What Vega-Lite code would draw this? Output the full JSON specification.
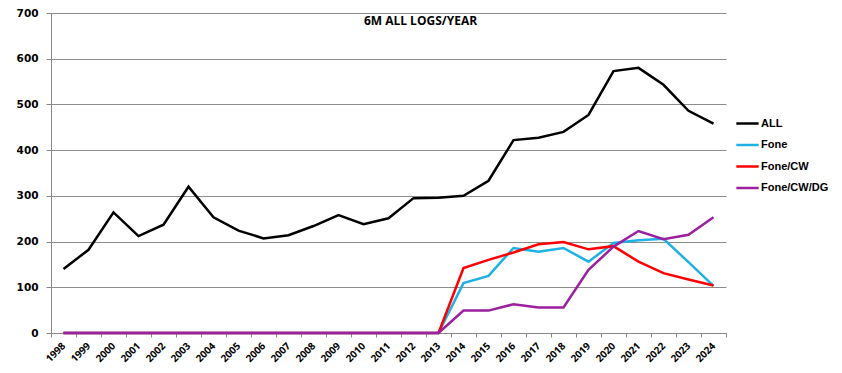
{
  "$schema": "https://vega.github.io/schema/vega-lite/v6.json",
  "width": 675,
  "height": 320,
  "autosize": {"type": "none"},
  "padding": {"left": 51, "top": 13, "right": 116, "bottom": 40},
  "background": "white",
  "config": {"view": {"stroke": null}},
  "title": {
    "text": "6M ALL LOGS/YEAR",
    "font": "Open Sans",
    "fontSize": 12,
    "fontWeight": "bold",
    "color": "#000000",
    "anchor": "middle",
    "dx": 32,
    "offset": -20
  },
  "data": {
    "values": [
      {"year": "1998", "series": "ALL", "value": 140},
      {"year": "1999", "series": "ALL", "value": 182},
      {"year": "2000", "series": "ALL", "value": 264},
      {"year": "2001", "series": "ALL", "value": 212},
      {"year": "2002", "series": "ALL", "value": 237},
      {"year": "2003", "series": "ALL", "value": 320},
      {"year": "2004", "series": "ALL", "value": 253},
      {"year": "2005", "series": "ALL", "value": 224},
      {"year": "2006", "series": "ALL", "value": 207},
      {"year": "2007", "series": "ALL", "value": 214},
      {"year": "2008", "series": "ALL", "value": 234},
      {"year": "2009", "series": "ALL", "value": 258},
      {"year": "2010", "series": "ALL", "value": 238},
      {"year": "2011", "series": "ALL", "value": 251},
      {"year": "2012", "series": "ALL", "value": 295},
      {"year": "2013", "series": "ALL", "value": 296},
      {"year": "2014", "series": "ALL", "value": 300},
      {"year": "2015", "series": "ALL", "value": 333},
      {"year": "2016", "series": "ALL", "value": 422},
      {"year": "2017", "series": "ALL", "value": 427},
      {"year": "2018", "series": "ALL", "value": 440},
      {"year": "2019", "series": "ALL", "value": 477},
      {"year": "2020", "series": "ALL", "value": 573},
      {"year": "2021", "series": "ALL", "value": 580},
      {"year": "2022", "series": "ALL", "value": 543},
      {"year": "2023", "series": "ALL", "value": 486},
      {"year": "2024", "series": "ALL", "value": 458},
      {"year": "1998", "series": "Fone", "value": 0},
      {"year": "1999", "series": "Fone", "value": 0},
      {"year": "2000", "series": "Fone", "value": 0},
      {"year": "2001", "series": "Fone", "value": 0},
      {"year": "2002", "series": "Fone", "value": 0},
      {"year": "2003", "series": "Fone", "value": 0},
      {"year": "2004", "series": "Fone", "value": 0},
      {"year": "2005", "series": "Fone", "value": 0},
      {"year": "2006", "series": "Fone", "value": 0},
      {"year": "2007", "series": "Fone", "value": 0},
      {"year": "2008", "series": "Fone", "value": 0},
      {"year": "2009", "series": "Fone", "value": 0},
      {"year": "2010", "series": "Fone", "value": 0},
      {"year": "2011", "series": "Fone", "value": 0},
      {"year": "2012", "series": "Fone", "value": 0},
      {"year": "2013", "series": "Fone", "value": 0},
      {"year": "2014", "series": "Fone", "value": 109},
      {"year": "2015", "series": "Fone", "value": 125},
      {"year": "2016", "series": "Fone", "value": 186},
      {"year": "2017", "series": "Fone", "value": 178},
      {"year": "2018", "series": "Fone", "value": 186},
      {"year": "2019", "series": "Fone", "value": 156},
      {"year": "2020", "series": "Fone", "value": 197},
      {"year": "2021", "series": "Fone", "value": 203},
      {"year": "2022", "series": "Fone", "value": 206},
      {"year": "2023", "series": "Fone", "value": 155},
      {"year": "2024", "series": "Fone", "value": 103},
      {"year": "1998", "series": "Fone/CW", "value": 0},
      {"year": "1999", "series": "Fone/CW", "value": 0},
      {"year": "2000", "series": "Fone/CW", "value": 0},
      {"year": "2001", "series": "Fone/CW", "value": 0},
      {"year": "2002", "series": "Fone/CW", "value": 0},
      {"year": "2003", "series": "Fone/CW", "value": 0},
      {"year": "2004", "series": "Fone/CW", "value": 0},
      {"year": "2005", "series": "Fone/CW", "value": 0},
      {"year": "2006", "series": "Fone/CW", "value": 0},
      {"year": "2007", "series": "Fone/CW", "value": 0},
      {"year": "2008", "series": "Fone/CW", "value": 0},
      {"year": "2009", "series": "Fone/CW", "value": 0},
      {"year": "2010", "series": "Fone/CW", "value": 0},
      {"year": "2011", "series": "Fone/CW", "value": 0},
      {"year": "2012", "series": "Fone/CW", "value": 0},
      {"year": "2013", "series": "Fone/CW", "value": 0},
      {"year": "2014", "series": "Fone/CW", "value": 142},
      {"year": "2015", "series": "Fone/CW", "value": 160},
      {"year": "2016", "series": "Fone/CW", "value": 176},
      {"year": "2017", "series": "Fone/CW", "value": 194},
      {"year": "2018", "series": "Fone/CW", "value": 199},
      {"year": "2019", "series": "Fone/CW", "value": 183},
      {"year": "2020", "series": "Fone/CW", "value": 190},
      {"year": "2021", "series": "Fone/CW", "value": 156},
      {"year": "2022", "series": "Fone/CW", "value": 131},
      {"year": "2023", "series": "Fone/CW", "value": 117},
      {"year": "2024", "series": "Fone/CW", "value": 104},
      {"year": "1998", "series": "Fone/CW/DG", "value": 0},
      {"year": "1999", "series": "Fone/CW/DG", "value": 0},
      {"year": "2000", "series": "Fone/CW/DG", "value": 0},
      {"year": "2001", "series": "Fone/CW/DG", "value": 0},
      {"year": "2002", "series": "Fone/CW/DG", "value": 0},
      {"year": "2003", "series": "Fone/CW/DG", "value": 0},
      {"year": "2004", "series": "Fone/CW/DG", "value": 0},
      {"year": "2005", "series": "Fone/CW/DG", "value": 0},
      {"year": "2006", "series": "Fone/CW/DG", "value": 0},
      {"year": "2007", "series": "Fone/CW/DG", "value": 0},
      {"year": "2008", "series": "Fone/CW/DG", "value": 0},
      {"year": "2009", "series": "Fone/CW/DG", "value": 0},
      {"year": "2010", "series": "Fone/CW/DG", "value": 0},
      {"year": "2011", "series": "Fone/CW/DG", "value": 0},
      {"year": "2012", "series": "Fone/CW/DG", "value": 0},
      {"year": "2013", "series": "Fone/CW/DG", "value": 0},
      {"year": "2014", "series": "Fone/CW/DG", "value": 49},
      {"year": "2015", "series": "Fone/CW/DG", "value": 49},
      {"year": "2016", "series": "Fone/CW/DG", "value": 63},
      {"year": "2017", "series": "Fone/CW/DG", "value": 56},
      {"year": "2018", "series": "Fone/CW/DG", "value": 56},
      {"year": "2019", "series": "Fone/CW/DG", "value": 138},
      {"year": "2020", "series": "Fone/CW/DG", "value": 189},
      {"year": "2021", "series": "Fone/CW/DG", "value": 223},
      {"year": "2022", "series": "Fone/CW/DG", "value": 205},
      {"year": "2023", "series": "Fone/CW/DG", "value": 215},
      {"year": "2024", "series": "Fone/CW/DG", "value": 253}
    ]
  },
  "mark": {"type": "line", "strokeWidth": 2.5, "strokeJoin": "miter", "strokeCap": "butt"},
  "encoding": {
    "x": {
      "field": "year",
      "type": "ordinal",
      "scale": {"type": "band", "paddingInner": 0, "paddingOuter": 0},
      "axis": {
        "title": null,
        "labelAngle": -45,
        "labelAlign": "right",
        "labelBaseline": "middle",
        "labelFont": "Open Sans",
        "labelFontWeight": "bold",
        "labelFontSize": 10,
        "labelColor": "#000000",
        "labelPadding": 7,
        "tickBand": "extent",
        "tickSize": 4,
        "tickColor": "#888888",
        "domainColor": "#888888",
        "grid": false
      }
    },
    "y": {
      "field": "value",
      "type": "quantitative",
      "scale": {"domain": [0, 700], "nice": false},
      "axis": {
        "title": null,
        "values": [0, 100, 200, 300, 400, 500, 600, 700],
        "labelFont": "DejaVu Sans",
        "labelFontWeight": "bold",
        "labelFontSize": 10.5,
        "labelColor": "#000000",
        "labelPadding": 8,
        "tickSize": 5,
        "tickColor": "#888888",
        "domainColor": "#888888",
        "gridColor": "#8c8c8c",
        "gridOpacity": 1
      }
    },
    "color": {
      "field": "series",
      "type": "nominal",
      "scale": {
        "domain": ["ALL", "Fone", "Fone/CW", "Fone/CW/DG"],
        "range": ["#000000", "#1eb1e6", "#ff0000", "#9c1fa0"]
      },
      "legend": {
        "title": null,
        "orient": "none",
        "legendX": 684,
        "legendY": 98,
        "symbolType": "stroke",
        "symbolStrokeWidth": 2.5,
        "symbolSize": 500,
        "labelFont": "Liberation Sans",
        "labelFontWeight": "bold",
        "labelFontSize": 11,
        "labelColor": "#000000",
        "labelOffset": 1,
        "rowPadding": 3.5
      }
    }
  }
}
